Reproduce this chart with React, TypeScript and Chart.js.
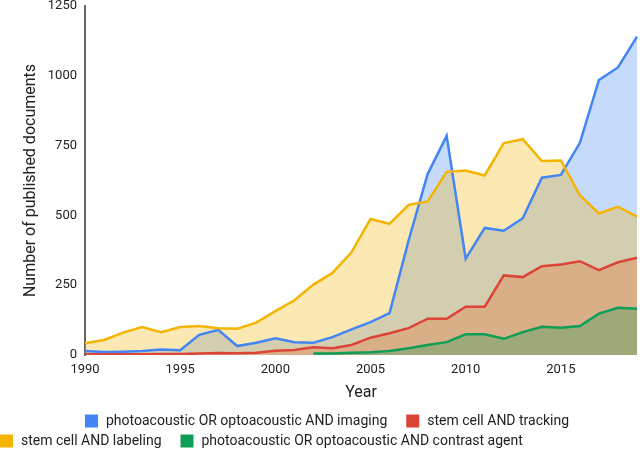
import { useEffect, useRef } from 'react';
import { Chart, registerables } from 'chart.js';

Chart.register(...registerables);

const years = [
  '1990', '1991', '1992', '1993', '1994', '1995', '1996', '1997', '1998', '1999',
  '2000', '2001', '2002', '2003', '2004', '2005', '2006', '2007', '2008', '2009',
  '2010', '2011', '2012', '2013', '2014', '2015', '2016', '2017', '2018', '2019',
];
const xTickLabels = ['1990', '1995', '2000', '2005', '2010', '2015'];
const yTickValues = [0, 250, 500, 750, 1000, 1250];

const seriesNames = [
  'photoacoustic OR optoacoustic AND imaging',
  'stem cell AND tracking',
  'stem cell AND labeling',
  'photoacoustic OR optoacoustic AND contrast agent',
];

const imaging = [14, 11, 12, 14, 20, 17, 72, 90, 32, 44, 60, 46, 44, 64, 92, 118, 150, 410, 648, 785, 345, 455, 445, 490, 635, 645, 760, 985, 1030, 1140];
const tracking = [3, 3, 3, 3, 4, 4, 5, 7, 6, 8, 15, 18, 28, 24, 36, 62, 78, 96, 130, 130, 173, 173, 285, 279, 318, 324, 336, 304, 332, 348];
const labeling = [42, 54, 80, 100, 82, 100, 104, 96, 94, 116, 157, 196, 252, 294, 368, 487, 470, 538, 550, 656, 661, 643, 759, 773, 695, 697, 572, 507, 531, 496];
const contrast = [null, null, null, null, null, null, null, null, null, null, null, null, 5, 5, 8, 10, 14, 24, 36, 46, 74, 74, 58, 82, 101, 98, 104, 148, 169, 166];

const lineColors = ['#4285F4', '#DB4437', '#F4B400', '#0F9D58'];
const fillColors = ['rgba(66,133,244,0.3)', 'rgba(219,68,55,0.3)', 'rgba(244,180,0,0.3)', 'rgba(15,157,88,0.3)'];

const legendRows = [
  { items: [0, 1], x: 85, y: 421 },
  { items: [2, 3], x: 0, y: 441 },
];

const customLegend = {
  id: 'customLegend',
  afterDraw(chart: any) {
    const ctx = chart.ctx;
    ctx.save();
    ctx.font = '14px Roboto, sans-serif';
    ctx.textBaseline = 'middle';
    ctx.textAlign = 'left';
    legendRows.forEach((row) => {
      let x = row.x;
      row.items.forEach((i) => {
        const ds = chart.data.datasets[i];
        ctx.fillStyle = ds.borderColor;
        ctx.fillRect(x, row.y - 6.5, 13, 13);
        ctx.fillStyle = '#222222';
        ctx.fillText(ds.label, x + 21, row.y);
        x += 21 + ctx.measureText(ds.label).width + 19;
      });
    });
    ctx.restore();
  },
};

export default function App() {
  const canvasRef = useRef<HTMLCanvasElement | null>(null);

  useEffect(() => {
    if (!canvasRef.current) return;
    Chart.defaults.font.family = 'Roboto, sans-serif';
    const seriesData = [imaging, tracking, labeling, contrast];
    const drawOrder = [3, 2, 1, 0];
    const chart = new Chart(canvasRef.current, {
      type: 'line',
      data: {
        labels: years,
        datasets: seriesData.map((d, i) => ({
          label: seriesNames[i],
          data: d,
          borderColor: lineColors[i],
          backgroundColor: fillColors[i],
          fill: 'origin',
          order: drawOrder[i],
          borderWidth: 2.5,
          pointRadius: 0,
          tension: 0,
          spanGaps: false,
        })),
      },
      options: {
        animation: false,
        responsive: false,
        layout: { padding: { left: 0, right: 3, top: 6, bottom: 0 } },
        plugins: {
          legend: { display: false },
          tooltip: { enabled: false },
          filler: { drawTime: 'beforeDatasetsDraw' },
        },
        scales: {
          x: {
            type: 'category',
            offset: false,
            grid: { display: false, drawTicks: false },
            border: { display: false },
            ticks: {
              autoSkip: false,
              maxRotation: 0,
              padding: 7,
              color: '#222222',
              font: { size: 13 },
              callback: (_v: any, i: number) => (xTickLabels.includes(years[i]) ? years[i] : ''),
            },
            title: {
              display: true,
              text: 'Year',
              color: '#222222',
              font: { size: 16 },
              padding: { top: 0, bottom: 46 },
            },
            afterFit: (s: any) => {
              s.height = 94;
              s.paddingLeft = 0;
              s.paddingRight = 0;
            },
          },
          y: {
            min: 0,
            max: 1250,
            grid: { display: false, drawTicks: false },
            border: { display: true, color: '#666666', width: 2 },
            ticks: {
              padding: 8,
              color: '#222222',
              font: { size: 13 },
              callback: (v: any) => String(v),
            },
            afterBuildTicks: (s: any) => {
              s.ticks = yTickValues.map((v) => ({ value: v }));
            },
            title: {
              display: true,
              text: 'Number of published documents',
              color: '#222222',
              font: { size: 16 },
              padding: { top: 21, bottom: 0 },
            },
            afterFit: (s: any) => {
              s.width = 85;
              s.paddingTop = 0;
              s.paddingBottom = 0;
            },
          },
        },
      } as any,
      plugins: [customLegend],
    });
    return () => chart.destroy();
  }, []);

  return (
    <div style={{ position: 'fixed', left: 0, top: 0, width: 640, height: 449, background: '#ffffff' }}>
      <canvas ref={canvasRef} width={640} height={449} style={{ width: 640, height: 449, display: 'block' }} />
    </div>
  );
}
